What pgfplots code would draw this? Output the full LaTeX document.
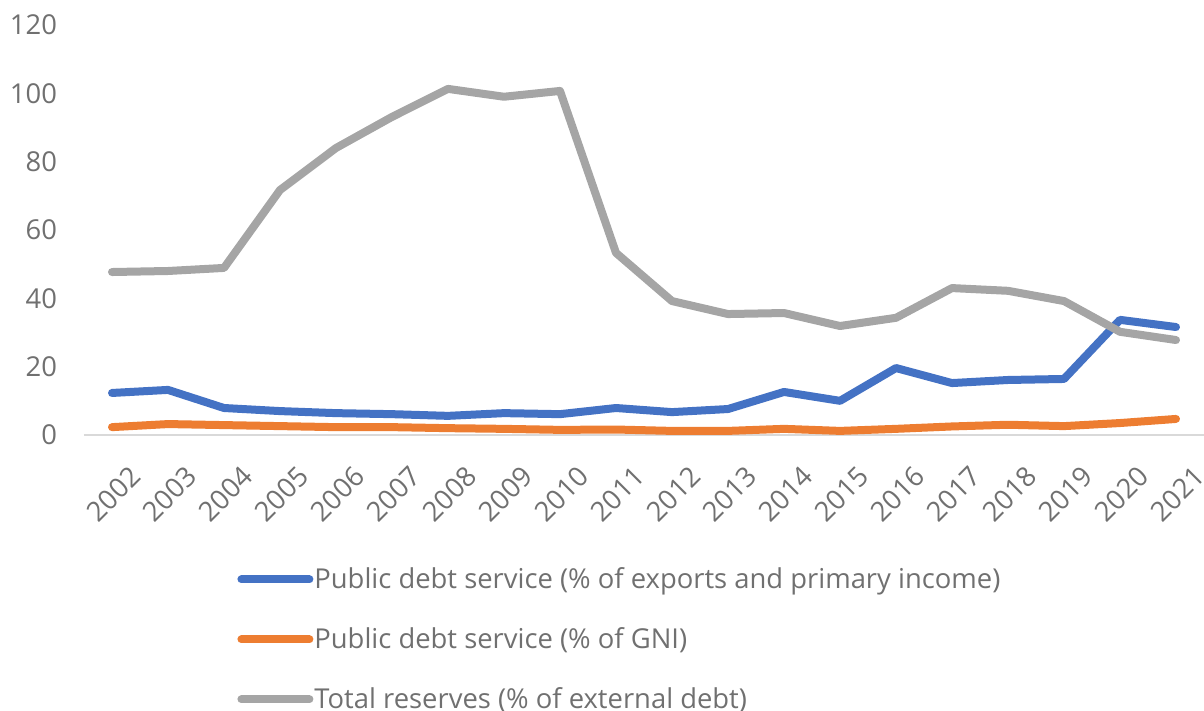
\documentclass[border=0pt]{standalone}
\usepackage{pgfplots}
\pgfplotsset{compat=1.18}
\usepackage{fontspec}
\setmainfont{Open Sans}
\definecolor{cblue}{HTML}{4472C4}
\definecolor{corange}{HTML}{ED7D31}
\definecolor{cgray}{HTML}{A5A5A5}
\definecolor{ctext}{HTML}{707070}
\definecolor{caxis}{HTML}{D9D9D9}
\begin{document}
\begin{tikzpicture}[x=1pt,y=1pt]
\useasboundingbox (-42,-138) rectangle (560,217.5);
\begin{axis}[
  at={(0,0)}, anchor=south west,
  scale only axis, width=560pt, height=205pt,
  xmin=-0.5, xmax=19.5, ymin=0, ymax=120,
  clip=false,
  axis x line*=bottom, axis y line*=left,
  x axis line style={draw=caxis, line width=1pt, -},
  y axis line style={draw=none},
  major tick length=0pt,
  xtick={0,...,19},
  xticklabels={2002,2003,2004,2005,2006,2007,2008,2009,2010,2011,2012,2013,2014,2015,2016,2017,2018,2019,2020,2021},
  ytick={0,20,...,120},
  /pgf/number format/assume math mode=true,
  ticklabel style={font=\fontsize{13.7}{16}\selectfont, text=ctext},
  xticklabel style={rotate=45, anchor=north east, xshift=-1pt, yshift=-13pt},
  yticklabel style={anchor=east, xshift=-10pt},
  legend style={at={(0.13125,-0.31)}, anchor=north west, draw=none, fill=none,
    font=\fontsize{13.7}{16}\selectfont, text=ctext, row sep=17pt,
    nodes={inner sep=0.5pt}},
  legend cell align=left,
  legend image code/.code={\draw[#1, line cap=round] (0pt,0pt) -- (34pt,0pt);},
  every axis plot/.append style={line width=4pt, line join=round, line cap=round},
]
\addplot[cblue] coordinates {(0,12.3)(1,13.2)(2,7.9)(3,7.0)(4,6.4)(5,6.1)(6,5.6)(7,6.4)(8,6.1)(9,7.9)(10,6.7)(11,7.6)(12,12.6)(13,10.0)(14,19.6)(15,15.2)(16,16.1)(17,16.4)(18,33.7)(19,31.6)};
\addlegendentry{Public debt service (\% of exports and primary income)}
\addplot[corange] coordinates {(0,2.3)(1,3.2)(2,2.9)(3,2.6)(4,2.3)(5,2.3)(6,2.0)(7,1.8)(8,1.5)(9,1.6)(10,1.2)(11,1.2)(12,1.8)(13,1.2)(14,1.8)(15,2.5)(16,3.0)(17,2.6)(18,3.5)(19,4.7)};
\addlegendentry{Public debt service (\% of GNI)}
\addplot[cgray] coordinates {(0,47.7)(1,48.0)(2,48.9)(3,71.7)(4,84.0)(5,93.1)(6,101.3)(7,99.0)(8,100.7)(9,53.3)(10,39.2)(11,35.4)(12,35.7)(13,31.9)(14,34.3)(15,43.0)(16,42.2)(17,39.2)(18,30.2)(19,27.8)};
\addlegendentry{Total reserves (\% of external debt)}
\end{axis}
\end{tikzpicture}
\end{document}
